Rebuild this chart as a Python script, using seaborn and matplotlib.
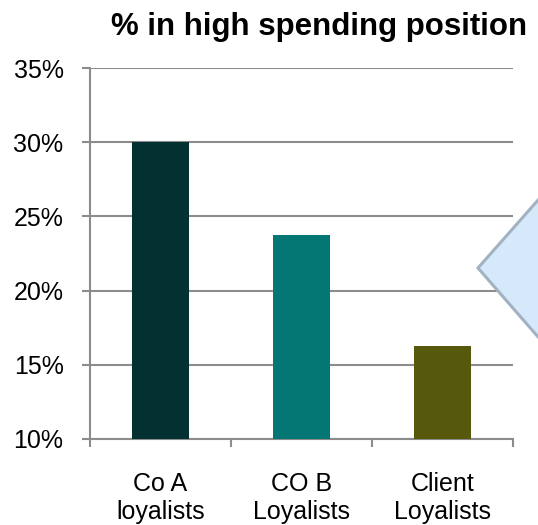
import matplotlib
matplotlib.use("Agg")
import matplotlib.pyplot as plt
from matplotlib.patches import Polygon
from matplotlib.ticker import FixedLocator, FuncFormatter
import seaborn as sns
import pandas as pd

categories = ["Co A\nloyalists", "CO B\nLoyalists", "Client\nLoyalists"]
values = [30.0, 23.75, 16.3]
bar_colors = ["#033030", "#047674", "#56580C"]
y_ticks = [10, 15, 20, 25, 30, 35]
title = "% in high spending position"

sns.set_theme(style="white")
plt.rcParams["font.family"] = ["Liberation Sans", "DejaVu Sans"]

W, H = 538, 525
fig = plt.figure(figsize=(W / 100, H / 100), dpi=100)
ax = fig.add_axes([90 / W, 1 - 439 / H, (513 - 90) / W, (439 - 68) / H])

df = pd.DataFrame({"cat": categories, "val": values})
sns.barplot(data=df, x="cat", y="val", hue="cat", palette=bar_colors,
            width=0.4, legend=False, ax=ax, saturation=1, zorder=3,
            linewidth=0, edgecolor="none")

grid_c = "#8C8C8C"
ax.set_ylim(10, 35)
ax.set_xlim(-0.5, 2.5)
ax.yaxis.set_major_locator(FixedLocator(y_ticks))
ax.yaxis.set_major_formatter(FuncFormatter(lambda v, p: f"{v:.0f}%"))
ax.grid(axis="y", color=grid_c, linewidth=1.5, zorder=0)
ax.set_axisbelow(True)
for s in ["top", "right"]:
    ax.spines[s].set_visible(False)
for s in ["left", "bottom"]:
    ax.spines[s].set_color(grid_c)
    ax.spines[s].set_linewidth(1.5)

ax.set_xlabel("")
ax.set_ylabel("")
ax.tick_params(axis="y", which="major", left=True, length=6, width=1.5,
               color=grid_c, pad=13, labelsize=18, labelcolor="black")
ax.set_xticks([-0.5, 0.5, 1.5, 2.5], minor=True)
ax.tick_params(axis="x", which="minor", bottom=True, length=6, width=1.5,
               color=grid_c)
ax.tick_params(axis="x", which="major", bottom=False, length=0, pad=24,
               labelsize=18, labelcolor="black")

fig.text(319.5 / W, 1 - 35 / H, title, ha="center", va="baseline",
         fontsize=22.5, fontweight="bold", color="black")

# callout pointer (partially off-figure)
pts = [(478, 268), (600, 130), (600, 408)]
poly = Polygon([(x / W, 1 - y / H) for x, y in pts], closed=True,
               transform=fig.transFigure, facecolor="#D6E9FB",
               edgecolor="#A2B2C2", linewidth=2.2, clip_on=False, zorder=5)
fig.patches.append(poly)

fig.savefig("out.png", dpi=100)
